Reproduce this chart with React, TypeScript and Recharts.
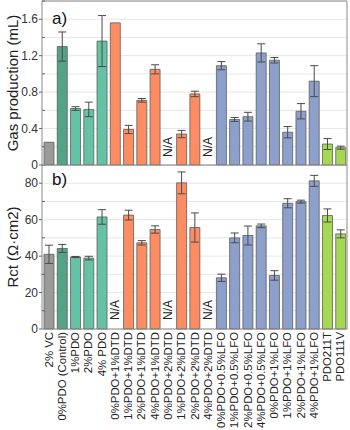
import {
  BarChart,
  Bar,
  XAxis,
  YAxis,
  CartesianGrid,
  ErrorBar,
  Cell,
  ReferenceLine,
  ReferenceDot,
} from 'recharts'

const categories = [
  '2% VC', '0%PDO (Control)', '1%PDO', '2%PDO', '4% PDO',
  '0%PDO+1%DTD', '1%PDO+1%DTD', '2%PDO+1%DTD', '4%PDO+1%DTD',
  '0%PDO+2%DTD', '1%PDO+2%DTD', '2%PDO+2%DTD', '4%PDO+2%DTD',
  '0%PDO+0.5%LFO', '1%PDO+0.5%LFO', '2%PDO+0.5%LFO', '4%PDO+0.5%LFO',
  '0%PDO+1%LFO', '1%PDO+1%LFO', '2%PDO+1%LFO', '4%PDO+1%LFO',
  'PDO211T', 'PDO111V',
]

const groups = [
  'vc', 'control', 'pdo', 'pdo', 'pdo',
  'dtd', 'dtd', 'dtd', 'dtd', 'dtd', 'dtd', 'dtd', 'dtd',
  'lfo', 'lfo', 'lfo', 'lfo', 'lfo', 'lfo', 'lfo', 'lfo',
  'commercial', 'commercial',
]

// null = N/A
const gasValues = [0.25, 1.3, 0.62, 0.61, 1.36, 1.56, 0.39, 0.71, 1.05, null, 0.34, 0.78, null, 1.09, 0.5, 0.53, 1.23, 1.15, 0.36, 0.59, 0.92, 0.23, 0.19]
const gasErrors = [0, 0.16, 0.02, 0.08, 0.28, 0, 0.045, 0.02, 0.05, null, 0.04, 0.03, null, 0.045, 0.022, 0.048, 0.1, 0.03, 0.062, 0.084, 0.17, 0.06, 0.017]

const rctValues = [41, 44.2, 39.5, 38.9, 61.5, null, 62.5, 47.3, 54.6, null, 80.2, 55.7, null, 28.1, 50, 51.3, 56.6, 29.4, 69, 69.9, 81.3, 62.3, 52.2]
const rctErrors = [5, 2.2, 0.3, 1, 4, null, 2.7, 1.2, 2, null, 6, 8, null, 2, 2.7, 5.2, 1, 2.6, 2.5, 0.8, 3, 3.6, 2.2]

const gasTicks = [0, 0.2, 0.4, 0.6, 0.8, 1, 1.2, 1.4, 1.6, 1.8]
const rctTicks = [0, 10, 20, 30, 40, 50, 60, 70, 80, 90]

const groupColors: Record<string, string> = {
  vc: '#9a9a9a',
  control: '#55a387',
  pdo: '#66c2a5',
  dtd: '#fc8d62',
  lfo: '#8da0cb',
  commercial: '#a6d854',
}

const font = '"Liberation Sans", Arial, sans-serif'
const frame = '#8a8a8a'

const gasData = categories.map((name, i) => ({ name, value: gasValues[i], err: gasErrors[i] }))
const rctData = categories.map((name, i) => ({ name, value: rctValues[i], err: rctErrors[i] }))

const makeLeftTick = (step: number) => (props: any) => {
  const { x, y, payload } = props
  const v = payload.value as number
  const major = Math.round(v / step) % 2 === 0
  const ax = x + 4
  return (
    <g>
      {major ? (
        <line x1={ax - 3} x2={ax} y1={y} y2={y} stroke="#666" />
      ) : (
        <line x1={ax} x2={ax + 3} y1={y} y2={y} stroke="#666" />
      )}
      {major && (
        <text x={x} y={y} textAnchor="end" dominantBaseline="central" fontSize={12} fill="#333" fontFamily={font}>
          {String(v)}
        </text>
      )}
    </g>
  )
}

const RightTick = (props: any) => {
  const { x, y } = props
  return <line x1={x - 3} x2={x} y1={y} y2={y} stroke="#666" />
}

const CategoryTick = (props: any) => {
  const { x, y, payload } = props
  return (
    <text
      x={x}
      y={y}
      transform={`rotate(-90, ${x}, ${y})`}
      textAnchor="end"
      dominantBaseline="central"
      fontSize={11.4}
      fill="#222"
      fontFamily={font}
    >
      {payload.value}
    </text>
  )
}

const axisTitle = (text: string) => (props: any) => {
  const vb = props.viewBox || {}
  const cx = (vb.x ?? 0) + 12
  const cy = (vb.y ?? 0) + (vb.height ?? 0) / 2
  return (
    <text
      x={cx}
      y={cy}
      transform={`rotate(-90, ${cx}, ${cy})`}
      textAnchor="middle"
      dominantBaseline="central"
      fontSize={15}
      fill="#222"
      fontFamily={font}
    >
      {text}
    </text>
  )
}

const panelLabel = (text: string, dy: number) => (props: any) => {
  const vb = props.viewBox || {}
  return (
    <text x={(vb.x ?? 0) + 10} y={(vb.y ?? 0) + dy} fontSize={17} fill="#111" fontFamily={font}>
      {text}
    </text>
  )
}

const naShape = (props: any) => {
  const { cx, cy } = props
  return (
    <text
      x={cx}
      y={cy}
      transform={`rotate(-90, ${cx}, ${cy})`}
      textAnchor="start"
      dominantBaseline="central"
      fontSize={12}
      fill="#222"
      fontFamily={font}
    >
      N/A
    </text>
  )
}

export default function App() {
  return (
    <div style={{ position: 'absolute', left: 0, top: 0, width: 350, height: 430, background: '#fff' }}>
      <div style={{ position: 'absolute', left: 0, top: 0 }}>
        <BarChart width={350} height={180} data={gasData} margin={{ top: 1, right: 0, bottom: 15, left: 0 }} barSize={10}>
          <CartesianGrid vertical={false} stroke="#e6e6e6" />
          <XAxis dataKey="name" hide />
          <YAxis
            domain={[0, 1.8]}
            ticks={gasTicks}
            interval={0}
            width={42}
            tickSize={3}
            tickMargin={1}
            tickLine={false}
            tick={makeLeftTick(0.2)}
            axisLine={{ stroke: frame }}
            label={axisTitle('Gas production (mL)')}
          />
          <YAxis
            yAxisId="r"
            orientation="right"
            domain={[0, 1.8]}
            ticks={gasTicks}
            interval={0}
            width={3}
            tickSize={0}
            tickMargin={0}
            tickLine={false}
            tick={RightTick}
            axisLine={{ stroke: frame }}
          />
          <Bar dataKey="value" isAnimationActive={false} stroke="#555" strokeOpacity={0.75} strokeWidth={1}>
            {gasData.map((d, i) => (
              <Cell key={d.name} fill={groupColors[groups[i]]} />
            ))}
            <ErrorBar dataKey="err" width={4} stroke="#4a4a4a" strokeWidth={1} isAnimationActive={false} />
          </Bar>
          {gasData.filter((d) => d.value === null).map((d) => (
            <ReferenceDot key={d.name} x={d.name} y={0.088} r={0} shape={naShape} />
          ))}
          <ReferenceLine y={0} stroke={frame} />
          <ReferenceLine y={1.8} stroke={frame} label={panelLabel('a)', 23)} />
        </BarChart>
      </div>
      <div style={{ position: 'absolute', left: 0, top: 165 }}>
        <BarChart width={350} height={265} data={rctData} margin={{ top: 0, right: 0, bottom: 0, left: 0 }} barSize={10}>
          <CartesianGrid vertical={false} stroke="#e6e6e6" />
          <XAxis
            dataKey="name"
            interval={0}
            height={101}
            tickSize={0}
            tickMargin={3}
            tickLine={false}
            tick={CategoryTick}
            axisLine={{ stroke: frame }}
          />
          <YAxis
            domain={[0, 90]}
            ticks={rctTicks}
            interval={0}
            width={42}
            tickSize={3}
            tickMargin={1}
            tickLine={false}
            tick={makeLeftTick(10)}
            axisLine={{ stroke: frame }}
            label={axisTitle('Rct (Ω·cm2)')}
          />
          <YAxis
            yAxisId="r"
            orientation="right"
            domain={[0, 90]}
            ticks={rctTicks}
            interval={0}
            width={3}
            tickSize={0}
            tickMargin={0}
            tickLine={false}
            tick={RightTick}
            axisLine={{ stroke: frame }}
          />
          <Bar dataKey="value" isAnimationActive={false} stroke="#555" strokeOpacity={0.75} strokeWidth={1}>
            {rctData.map((d, i) => (
              <Cell key={d.name} fill={groupColors[groups[i]]} />
            ))}
            <ErrorBar dataKey="err" width={4} stroke="#4a4a4a" strokeWidth={1} isAnimationActive={false} />
          </Bar>
          {rctData.filter((d) => d.value === null).map((d) => (
            <ReferenceDot key={d.name} x={d.name} y={5} r={0} shape={naShape} />
          ))}
          <ReferenceLine y={90} stroke={frame} label={panelLabel('b)', 20)} />
        </BarChart>
      </div>
    </div>
  )
}
